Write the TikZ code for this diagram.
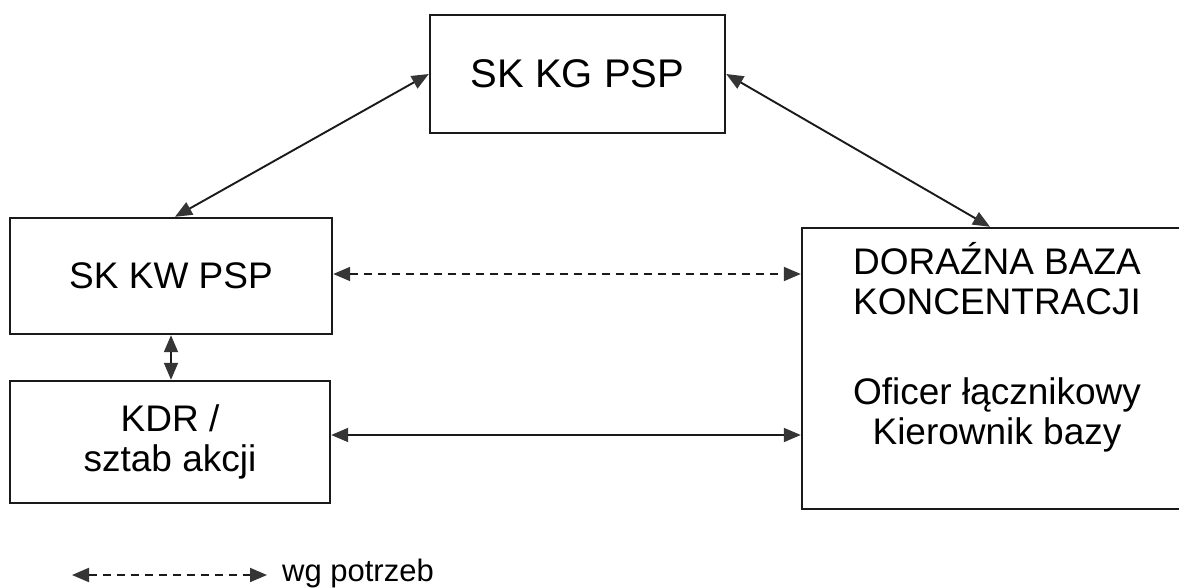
\documentclass[tikz,border=0pt]{standalone}
\usepackage{fontspec}
\setmainfont{Liberation Sans}
\usetikzlibrary{arrows.meta}
\definecolor{ink}{HTML}{1A1A1A}
\definecolor{tipc}{HTML}{353535}
\tikzset{
  box/.style={draw=ink, line width=2.4pt, rectangle, inner sep=0pt, align=center},
  conn/.style={draw=ink, line width=1.9pt, {Triangle[length=17pt,width=14pt,color=tipc,fill=tipc]}-{Triangle[length=17pt,width=14pt,color=tipc,fill=tipc]}},
  dconn/.style={conn, dash pattern=on 8pt off 6pt},
  bigtxt/.style={font=\fontsize{37}{40}\selectfont},
}
\begin{document}
\begin{tikzpicture}[x=1pt,y=-1pt]
\useasboundingbox (0,0) rectangle (1179,588);
\node[box, font=\fontsize{40}{44}\selectfont, minimum width=295pt, minimum height=118pt] (kg) at (577.5,74) {SK KG PSP};
\node[box, bigtxt, minimum width=322pt, minimum height=116pt] (kw) at (171,276) {SK KW PSP};
\node[box, bigtxt, minimum width=320pt, minimum height=122pt] (kdr) at (170,442) {KDR /\\sztab akcji};
\node[box, minimum width=390pt, minimum height=281pt] (baza) at (997,368.5) {};
\node[bigtxt, align=center, inner sep=0pt] (bazatxt) at (997,347.5) {DORAŹNA BAZA\\KONCENTRACJI\\[50pt]Oficer łącznikowy\\Kierownik bazy};
\draw[conn] (kg.west) -- ([xshift=4pt]kw.north);
\draw[conn] (kg.east) -- ([xshift=-7pt]baza.north);
\draw[conn] (kw.south) -- (kdr.north -| kw.south);
\draw[dconn] ([yshift=2pt]kw.east) -- ([yshift=2pt]kw.east -| baza.west);
\draw[conn] ([yshift=7pt]kdr.east) -- ([yshift=7pt]kdr.east -| baza.west);
\coordinate (l1) at (72,575);
\coordinate (l2) at (267,575);
\draw[dconn] (l1) -- (l2);
\node[anchor=west, inner sep=0pt, font=\fontsize{31}{36}\selectfont] (leg) at (282,573) {wg potrzeb};
\end{tikzpicture}
\end{document}
